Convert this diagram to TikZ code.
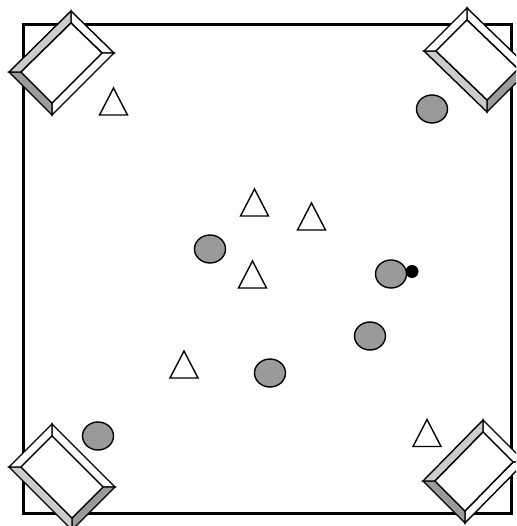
\documentclass[tikz,border=0pt]{standalone}
\usetikzlibrary{calc,shapes.geometric}
\definecolor{lightbevel}{HTML}{CCCCCC}
\definecolor{darkbevel}{HTML}{9A9A9A}
\definecolor{discgray}{HTML}{9A9A9A}
\tikzset{
  frame/.style={draw=black, line width=3pt},
  bevel/.style={draw=black, line width=1.4pt, line join=miter},
  disc/.style={ellipse, draw=black, fill=discgray, line width=1.4pt, minimum width=31pt, minimum height=28pt, inner sep=0pt},
  tri/.pic={\draw[line width=1.4pt, fill=white, line join=miter] (0,-13.5) -- (14,13.5) -- (-14,13.5) -- cycle;},
  blackdot/.style={circle, fill=black, minimum size=13pt, inner sep=0pt}
}
% #1 prefix, #2 top, #3 right, #4 bottom, #5 left, #6..#9 face colours: T-R, R-B, B-L, L-T
\newcommand{\bevelbox}[9]{%
  \coordinate (#1T) at #2; \coordinate (#1R) at #3;
  \coordinate (#1B) at #4; \coordinate (#1L) at #5;
  \coordinate (#1t) at ($(#1T)+(0,12)$);
  \coordinate (#1r) at ($(#1R)+(-12,0)$);
  \coordinate (#1b) at ($(#1B)+(0,-12)$);
  \coordinate (#1l) at ($(#1L)+(12,0)$);
  \filldraw[bevel, fill=#6] (#1T)--(#1R)--(#1r)--(#1t)--cycle;
  \filldraw[bevel, fill=#7] (#1R)--(#1B)--(#1b)--(#1r)--cycle;
  \filldraw[bevel, fill=#8] (#1B)--(#1L)--(#1l)--(#1b)--cycle;
  \filldraw[bevel, fill=#9] (#1L)--(#1T)--(#1t)--(#1l)--cycle;
  \filldraw[bevel, fill=white] (#1t)--(#1r)--(#1b)--(#1l)--cycle;
}
\begin{document}
\begin{tikzpicture}[x=1pt, y=-1pt]
\useasboundingbox (0,0) rectangle (516,526);
\clip (0,0) rectangle (516,526);
% room
\draw[frame] (23,25) rectangle (511,513);
% corner boxes
\bevelbox{a}{(71,11)}{(114,53)}{(52,115)}{(9,72)}{white}{white}{darkbevel}{lightbevel}
\bevelbox{b}{(467,8)}{(530,69)}{(487,112)}{(424,51)}{white}{darkbevel}{lightbevel}{white}
\bevelbox{c}{(52,424)}{(115,487)}{(72,530)}{(9,467)}{white}{darkbevel}{lightbevel}{white}
\bevelbox{d}{(483,420)}{(525,462)}{(465,523)}{(423,481)}{white}{white}{darkbevel}{lightbevel}
% triangles
\pic (t1) at (113.5,101.5) {tri};
\pic (t2) at (254.5,202.5) {tri};
\pic (t3) at (311.5,216.5) {tri};
\pic (t4) at (252.5,274.5) {tri};
\pic (t5) at (184,364.5) {tri};
\pic (t6) at (427,433) {tri};
% discs
\node[blackdot] (dot) at (412,271.5) {};
\node[disc] (c1) at (432,109) {};
\node[disc] (c2) at (210,249) {};
\node[disc] (c3) at (391,274) {};
\node[disc] (c4) at (370,336) {};
\node[disc] (c5) at (270,373) {};
\node[disc] (c6) at (98,436) {};
\end{tikzpicture}
\end{document}
